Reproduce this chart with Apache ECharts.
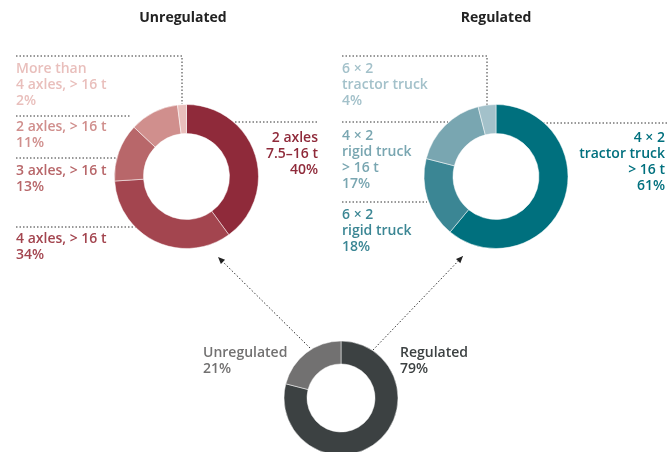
<!DOCTYPE html>
<html>
<head>
<meta charset="utf-8">
<script src="https://cdn.jsdelivr.net/npm/echarts@6/dist/echarts.min.js"></script>
<style>
  html, body { margin: 0; padding: 0; background: #fff; }
  #chart { width: 669px; height: 452px; }
</style>
</head>
<body>
<div id="chart"></div>
<script>
// data
const titles = ["Unregulated", "Regulated"];

const unregNames = ["2 axles\n7.5–16 t", "4 axles, > 16 t", "3 axles, > 16 t", "2 axles, > 16 t", "More than\n4 axles, > 16 t"];
const unregValues = [40, 34, 13, 11, 2];
const unregColors = ["#8F2A3A", "#A3454F", "#B8676A", "#D08F8D", "#E9BFBC"];

const regNames = ["4 × 2\ntractor truck\n> 16 t", "6 × 2\nrigid truck", "4 × 2\nrigid truck\n> 16 t", "6 × 2\ntractor truck"];
const regValues = [61, 18, 17, 4];
const regColors = ["#00707E", "#3B8694", "#79A6B1", "#A3C1CA"];

const totalNames = ["Regulated", "Unregulated"];
const totalValues = [79, 21];
const totalColors = ["#3C4142", "#727171"];

// label placement (x, top y, align) per slice
const unregLabelPos = [[318, 130, "right"], [16, 231, "left"], [16, 163, "left"], [16, 119, "left"], [16, 61, "left"]];
const regLabelPos = [[665, 130, "right"], [342, 207, "left"], [342, 128, "left"], [342, 61, "left"]];
const totalLabelPos = [[400, 345, "left"], [203, 345, "left"]];

// dotted leader lines
const leaders = [
  [[16, 56], [182, 56], [182, 104]],
  [[16, 116], [131, 116]],
  [[16, 158], [117, 158]],
  [[16, 227], [136, 227]],
  [[235, 122], [318, 122]],
  [[342, 56], [487, 56], [487, 105]],
  [[342, 122], [448, 122]],
  [[342, 202], [427, 202]],
  [[543, 123], [669, 123]]
];
const arrows = [
  [[310, 348], [218, 257]],
  [[373, 350], [463, 256]]
];

const FONT = "'Open Sans', sans-serif";
const chart = echarts.init(document.getElementById("chart"));

function makeData(names, values, colors) {
  return names.map((n, i) => ({
    name: n,
    value: values[i],
    itemStyle: { color: colors[i] },
    label: { color: colors[i] }
  }));
}

function pieSeries(names, values, colors, center, radius, pos) {
  return {
    type: "pie",
    center: center,
    radius: radius,
    startAngle: 90,
    clockwise: true,
    silent: true,
    avoidLabelOverlap: false,
    itemStyle: { borderColor: "#fff", borderWidth: 0.5 },
    label: {
      show: true,
      position: "outside",
      formatter: (p) => p.name + "\n" + p.value + "%",
      fontFamily: FONT,
      fontWeight: 600,
      fontSize: 14,
      lineHeight: 16
    },
    labelLine: { show: false },
    labelLayout: (p) => ({
      x: pos[p.dataIndex][0],
      y: pos[p.dataIndex][1],
      align: pos[p.dataIndex][2],
      verticalAlign: "top"
    }),
    data: makeData(names, values, colors)
  };
}

const graphics = [];
leaders.forEach((pts) => {
  graphics.push({
    type: "polyline",
    shape: { points: pts },
    style: { stroke: "#333", lineWidth: 1, lineDash: [1.5, 2], fill: null },
    silent: true
  });
});
arrows.forEach(([a, b]) => {
  graphics.push({
    type: "line",
    shape: { x1: a[0], y1: a[1], x2: b[0], y2: b[1] },
    style: { stroke: "#333", lineWidth: 1, lineDash: [1.5, 2] },
    silent: true
  });
  const ang = Math.atan2(b[1] - a[1], b[0] - a[0]);
  const L = 7, W = 3;
  const bx = b[0] - L * Math.cos(ang), by = b[1] - L * Math.sin(ang);
  graphics.push({
    type: "polygon",
    shape: {
      points: [
        b,
        [bx + W * Math.sin(ang), by - W * Math.cos(ang)],
        [bx - W * Math.sin(ang), by + W * Math.cos(ang)]
      ]
    },
    style: { fill: "#222" },
    silent: true
  });
});
graphics.push(
  { type: "text", x: 183, y: 18, style: { text: titles[0], font: "bold 14px " + FONT, fill: "#222", align: "center", verticalAlign: "middle" } },
  { type: "text", x: 496, y: 18, style: { text: titles[1], font: "bold 14px " + FONT, fill: "#222", align: "center", verticalAlign: "middle" } }
);

chart.setOption({
  animation: false,
  backgroundColor: "#fff",
  graphic: graphics,
  series: [
    pieSeries(unregNames, unregValues, unregColors, [186.5, 176.5], [43, 72], unregLabelPos),
    pieSeries(regNames, regValues, regColors, [496, 176.5], [43, 72], regLabelPos),
    pieSeries(totalNames, totalValues, totalColors, [341, 398], [34, 57], totalLabelPos)
  ]
});
</script>
</body>
</html>
